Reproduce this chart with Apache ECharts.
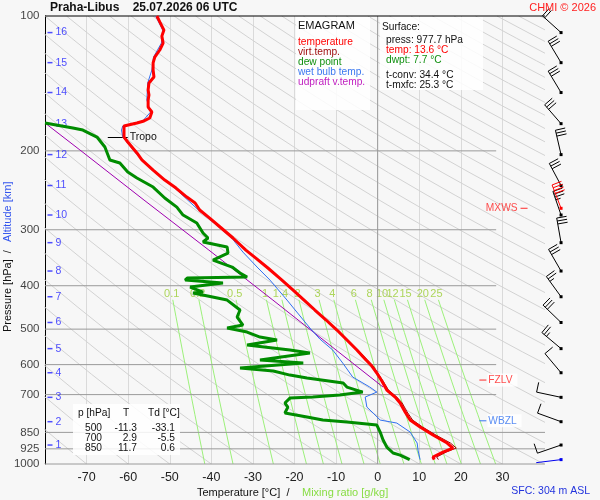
<!DOCTYPE html>
<html lang="cs">
<head>
<meta charset="UTF-8">
<title>Emagram Praha-Libus</title>
<script src="https://cdn.jsdelivr.net/npm/echarts@6/dist/echarts.min.js"></script>
<style>
  html, body { margin: 0; padding: 0; background: #f7f7f7; }
  #main { width: 600px; height: 500px; }
</style>
</head>
<body>
<div id="main"></div>
<script>
// ---- sounding data [T °C, p hPa] ----
const tempProfile = [
  [-53.1,100],[-52.4,103.1],[-51.4,107.5],[-51.9,110.9],[-51.6,114.9],[-52.4,119.1],[-53.6,123.5],
  [-54.0,127.3],[-54.0,132.0],[-53.8,136.8],[-55.0,141.1],[-55.2,146.3],[-55.0,150.1],[-55.2,154.0],
  [-55.2,159.7],[-54.3,163.8],[-54.8,168.9],[-56.2,171.5],[-57.9,173.3],[-61.0,176.0],[-61.3,177.8],
  [-61.0,186.3],[-60.1,191.1],[-57.9,202.2],[-56.7,209.6],[-54.0,220.7],[-51.2,232.4],[-48.5,242.1],
  [-45.9,253.6],[-43.9,261.5],[-42.8,271.1],[-40.4,282.5],[-37.9,295.8],[-34.8,313.0],[-31.7,333.0],
  [-29.3,347.0],[-26.4,365.2],[-23.3,386.5],[-20.6,406.9],[-17.7,430.6],[-15.1,453.2],[-12.4,477.1],
  [-9.8,502.3],[-7.4,528.8],[-5.0,556.7],[-2.8,586.1],[-1.4,604.4],[-0.2,626.6],[1.0,652.9],[2.2,683.8],
  [4.2,708.9],[5.4,731.1],[6.6,765.7],[7.8,797.8],[10.2,827.0],[13.3,861.8],[16.7,897.9],[18.1,921.2],
  [15.7,940.5],[13.3,964.7],[13.6,977.7]
];
const virtTemp = [
  [-9.5,502.3],[-4.7,556.7],[-1.1,604.4],[1.3,652.9],[2.6,683.8],[4.6,708.9],[5.9,731.1],[7.1,765.7],
  [8.4,797.8],[10.8,827.0],[14.0,861.8],[17.5,897.9],[18.9,921.2],[16.5,940.5],[14.2,964.7],[14.6,977.7]
];
const dewProfile = [
  [-80.0,173.3],[-73.3,177.8],[-70.9,179.7],[-67.5,186.3],[-65.6,196.1],[-64.4,209.6],[-62.0,212.9],
  [-60.1,223.0],[-57.9,229.9],[-54.0,240.9],[-51.2,254.8],[-48.3,267.0],[-46.8,278.2],[-43.5,289.8],
  [-42.0,305.1],[-40.8,313.0],[-42.0,319.5],[-36.2,327.9],[-36.0,338.2],[-39.6,350.6],[-35.0,363.4],
  [-33.1,374.7],[-31.4,382.5],[-45.8,384.5],[-46.3,388.5],[-37.2,394.5],[-45.1,402.7],[-42.0,413.3],
  [-44.4,415.3],[-36.2,430.6],[-33.1,453.2],[-33.8,469.8],[-32.4,489.5],[-36.2,497.1],[-31.4,507.5],
  [-28.3,520.7],[-24.2,528.8],[-31.4,542.5],[-21.1,556.7],[-16.3,565.3],[-28.3,586.1],[-17.9,595.2],
  [-33.1,610.7],[-25.1,620.2],[-21.1,633.2],[-17.0,642.9],[-8.3,659.6],[-7.4,673.4],[-3.6,690.9],
  [-9.1,701.7],[-15.6,708.9],[-21.1,712.6],[-22.3,731.1],[-21.6,746.2],[-22.3,769.5],[-17.0,785.6],
  [-13.2,797.8],[-7.4,806.0],[-0.2,818.5],[0.6,848.5],[1.3,884.1],[2.2,916.6],[3.7,945.2],[5.4,955.2],
  [7.7,977.7]
];
const wetBulb = [
  [-53.4,100],[-51.7,107.5],[-52.0,114.9],[-53.9,123.5],[-54.3,132.0],[-55.3,141.1],[-55.5,154.0],
  [-54.6,163.8],[-56.5,171.5],[-61.3,176.0],[-61.6,179.7],[-61.3,186.3],[-58.2,202.2],[-54.3,220.7],
  [-48.8,242.1],[-43.1,271.1],[-38.2,295.8],[-35.1,313.0],[-32.4,336.5],[-29.0,363.4],[-25.9,388.5],
  [-21.8,430.6],[-16.3,497.1],[-13.9,526.1],[-10.8,556.7],[-8.4,595.2],[-6.0,639.6],[-1.9,673.4],
  [-0.2,690.9],[-3.0,708.9],[-2.6,746.2],[-1.1,769.5],[0.6,797.8],[4.6,810.2],[7.8,848.5],[9.5,897.9],
  [9.7,930.8],[10.2,977.7]
];
const updraft = [
  [-80.0,173.3],[-71.6,199.1],[-56.2,257.5],[-40.6,333.0],[-25.2,430.6],[-10.0,556.7],[1.3,673.4]
];

// ---- axes / reference values ----
const pressureTicks = [100, 200, 300, 400, 500, 600, 700, 850, 925, 1000];
const altitudeKm = [1, 2, 3, 4, 5, 6, 7, 8, 9, 10, 11, 12, 13, 14, 15, 16];
const altitudePress = [907.1, 804.6, 709.9, 625.6, 552.7, 483.2, 423.3, 370.9, 320.6, 278.1, 239.0, 203.9, 173.9, 148.2, 127.1, 108.9];
const mixRatios = [0.1, 0.2, 0.5, 1, 1.4, 2, 3, 4, 6, 8, 10, 12, 15, 20, 25];

// ---- wind (pressure hPa, direction deg, speed kt) ----
const windPress = [108.9, 127.1, 148.2, 173.9, 203.9, 239.0, 278.1, 268.7, 320.6, 370.9, 423.3, 483.2, 552.7, 625.6, 709.9, 804.6, 907.1, 977.7];
const windDir   = [312, 329, 329, 319, 347, 332, 341, 339, 350, 330, 324, 314, 310, 320, 282, 290, 251, 263];
const windSpeed = [20, 30, 30, 30, 30, 30, 35, 40, 30, 30, 25, 30, 25, 10, 10, 10, 10, 2];
const windColor = ['#000','#000','#000','#000','#000','#000','#000','#f00','#000','#000','#000','#000','#000','#000','#000','#000','#000','#0000ee'];

// ---- special levels ----
const tropoP = 186.3, mxwsP = 268.7, fzlvP = 649.6, wbzlP = 800.7;
const sfcPress = 977.7, sfcTemp = 13.6, sfcDwpt = 7.7, tConv = 34.4, tMxfc = 25.3;
const tablePress = [500, 700, 850];
const tableT = [-11.3, 2.9, 11.7];
const tableTd = [-33.1, -5.5, 0.6];

const FONT = '"Liberation Sans", Arial, sans-serif';
const BARB_T = 44.1;

function dewFromMix(w, p) {
  const e = w * p / (622 + w);
  const l = Math.log(e / 6.112);
  return 243.5 * l / (17.67 - l);
}
function adiabatT(thetaC, p) {
  return (thetaC + 273.15) * Math.pow(p / 1000, 0.286) - 273.15;
}

const series = [];

// dry adiabats
const thetaLines = [];
for (let t = -80; t <= 330; t += 10) thetaLines.push(t);
const adiP = [];
for (let i = 0; i <= 20; i++) adiP.push(100 * Math.pow(10, i / 20));
thetaLines.forEach(th => {
  series.push({ type: 'line', silent: true, showSymbol: false, z: 1,
    lineStyle: { color: '#d2d2d2', width: 1 },
    data: adiP.map(p => [adiabatT(th, p), p]) });
});

// mixing ratio lines
const mixP = [];
for (let i = 0; i <= 10; i++) mixP.push(430 * Math.pow(1000 / 430, i / 10));
mixRatios.forEach(w => {
  series.push({ type: 'line', silent: true, showSymbol: false, z: 2,
    lineStyle: { color: '#9cf07a', width: 1 },
    data: mixP.map(p => [dewFromMix(w, p), p]) });
});
series.push({ type: 'scatter', silent: true, clip: false, z: 2, symbolSize: 1,
  itemStyle: { color: 'rgba(0,0,0,0)' },
  label: { show: true, position: 'inside', color: '#9acd32', fontSize: 11, fontFamily: FONT,
    formatter: p => String(p.data[2]) },
  data: mixRatios.map(w => [dewFromMix(w, 417), 417, w]) });

// pressure grid lines
pressureTicks.filter(p => p > 100).forEach(p => {
  series.push({ type: 'line', silent: true, showSymbol: false, clip: false, z: 3,
    lineStyle: { color: '#9a9a9a', width: 1 },
    data: [[-80, p], [p >= 850 ? 40.5 : 28.5, p]] });
});
// 0 °C isotherm and top border
series.push({ type: 'line', silent: true, showSymbol: false, z: 3,
  lineStyle: { color: '#999', width: 1 }, data: [[0, 100], [0, 1000]] });
series.push({ type: 'line', silent: true, showSymbol: false, clip: false, z: 3,
  lineStyle: { color: '#000', width: 1 }, data: [[-80, 100], [51.5, 100]] });

// pressure labels
series.push({ type: 'scatter', silent: true, clip: false, symbolSize: 1, z: 4,
  itemStyle: { color: 'rgba(0,0,0,0)' },
  label: { show: true, position: 'left', distance: 5, color: '#111', fontSize: 11.5, fontFamily: FONT,
    formatter: p => String(p.data[1]) },
  data: pressureTicks.map(p => [-80, p]) });

// altitude labels
series.push({ type: 'scatter', silent: true, clip: false, z: 4,
  symbol: 'rect', symbolSize: [5, 1.5], itemStyle: { color: '#2222ff' },
  label: { show: true, position: 'right', distance: 3, color: '#2222ff', fontSize: 10.5, fontFamily: FONT,
    formatter: p => String(p.data[2]) },
  data: altitudeKm.map((k, i) => [-78.8, altitudePress[i], k]) });

// sounding curves
function curve(data, color, width, z, extra) {
  return Object.assign({ type: 'line', silent: true, showSymbol: false, z: z,
    lineStyle: { color: color, width: width }, data: data }, extra || {});
}
series.push(curve(updraft, '#a000b0', 1, 5));
series.push(curve(wetBulb, '#3070f0', 1, 5));
series.push(curve(dewProfile, '#008c00', 3, 6));
series.push(curve(virtTemp, '#a00000', 1, 6));
series.push(curve(tempProfile, '#ff0000', 3, 7, {
  markLine: { silent: true, symbol: 'none', animation: false,
    lineStyle: { color: '#000', width: 1, type: 'solid' },
    label: { show: true, position: 'end', distance: 2, formatter: 'Tropo', color: '#111', fontSize: 10.5, fontFamily: FONT },
    data: [[{ coord: [-64.9, tropoP] }, { coord: [-60.1, tropoP] }]] }
}));

// special level markers
series.push({ type: 'scatter', silent: true, clip: false, z: 8,
  symbol: 'rect', symbolSize: [7, 1.2],
  label: { show: true, fontSize: 10.2, fontFamily: FONT },
  data: [
    { value: [35.2, mxwsP], itemStyle: { color: '#ff2020' },
      label: { position: 'left', distance: 3, formatter: 'MXWS', color: '#ff2020' } },
    { value: [25.3, fzlvP], itemStyle: { color: '#ff2020' },
      label: { position: 'right', distance: 1, formatter: 'FZLV', color: '#ff2020', backgroundColor: '#fff', padding: [2, 5, 1, 1] } },
    { value: [25.3, wbzlP], itemStyle: { color: '#3070f0' },
      label: { position: 'right', distance: 1, formatter: 'WBZL', color: '#3070f0', backgroundColor: '#fff', padding: [2, 5, 1, 1] } }
  ] });

// wind barbs
function renderBarb(params, api) {
  const pt = api.coord([api.value(0), api.value(1)]);
  const a = api.value(2) * Math.PI / 180;
  const n = Math.round(api.value(3) / 5);
  const color = windColor[params.dataIndex];
  const ux = Math.sin(a), uy = -Math.cos(a);
  const px = -uy, py = ux;
  const L = 25, F = 10;
  const tx = pt[0] + ux * L, ty = pt[1] + uy * L;
  const children = [
    { type: 'line', shape: { x1: pt[0], y1: pt[1], x2: tx, y2: ty }, style: { stroke: color, lineWidth: 1 } },
    { type: 'rect', shape: { x: pt[0] - 1.5, y: pt[1] - 1.5, width: 3, height: 3 }, style: { fill: color } }
  ];
  const full = Math.floor(n / 2), half = n % 2;
  for (let i = 0; i < full + half; i++) {
    const bx = tx - ux * i * 3, by = ty - uy * i * 3;
    const len = i < full ? F : F / 2;
    children.push({ type: 'line', shape: { x1: bx, y1: by, x2: bx + px * len, y2: by + py * len },
      style: { stroke: color, lineWidth: 1 } });
  }
  return { type: 'group', children: children };
}
series.push({ type: 'custom', silent: true, clip: false, z: 9,
  renderItem: renderBarb, encode: { x: 0, y: 1 },
  data: windPress.map((p, i) => [BARB_T, p, windDir[i], windSpeed[i]]) });

// ---- text boxes ----
function txt(x, y, text, fill, size, extra) {
  return { type: 'text', x: x, y: y, z: 101, silent: true,
    style: Object.assign({ text: text, fill: fill || '#111', fontSize: size || 10.2, fontFamily: FONT,
      textVerticalAlign: 'middle', verticalAlign: 'middle' }, extra || {}) };
}
const R = { textAlign: 'right', align: 'right' };

const graphic = [
  txt(50, 8, 'Praha-Libus    25.07.2026 06 UTC', '#111', 12, { fontWeight: 'bold' }),
  txt(596, 8, 'CHMI © 2026', '#ff2020', 11, R),
  txt(590, 491, 'SFC: 304 m ASL', '#2233dd', 10.5, R),
  txt(197, 493, 'Temperature [°C]  /', '#111', 11),
  txt(302, 493, 'Mixing ratio [g/kg]', '#88dd44', 11),
  Object.assign(txt(8, 332, 'Pressure [hPa]  /', '#111', 11), { rotation: Math.PI / 2 }),
  Object.assign(txt(8, 242, 'Altitude [km]', '#3355ee', 11), { rotation: Math.PI / 2 }),
  // legend box
  { type: 'rect', z: 100, silent: true, shape: { x: 296, y: 17, width: 74, height: 93 }, style: { fill: 'rgba(255,255,255,0.85)' } },
  txt(298, 26, 'EMAGRAM', '#111', 11),
  txt(298, 42, 'temperature', '#ff0000'),
  txt(298, 52, 'virt.temp.', '#a01010'),
  txt(298, 62, 'dew point', '#109010'),
  txt(298, 72, 'wet bulb temp.', '#3a78f0'),
  txt(298, 82, 'udpraft v.temp.', '#c020c0'),
  // surface box
  { type: 'rect', z: 100, silent: true, shape: { x: 380, y: 17, width: 103, height: 73 }, style: { fill: 'rgba(255,255,255,0.85)' } },
  txt(382, 27, 'Surface:'),
  txt(386, 40, 'press: ' + sfcPress.toFixed(1) + ' hPa'),
  txt(386, 50, 'temp: ' + sfcTemp.toFixed(1) + ' °C', '#ff0000'),
  txt(386, 60, 'dwpt: ' + sfcDwpt.toFixed(1) + ' °C', '#109010'),
  txt(386, 75, 't-conv: ' + tConv.toFixed(1) + ' °C'),
  txt(386, 85, 't-mxfc: ' + tMxfc.toFixed(1) + ' °C'),
  // table box
  { type: 'rect', z: 100, silent: true, shape: { x: 73, y: 404, width: 107, height: 51 }, style: { fill: 'rgba(255,255,255,0.85)' } },
  txt(78, 413, 'p [hPa]'),
  txt(123, 413, 'T'),
  txt(148, 413, 'Td [°C]')
];
tablePress.forEach((p, i) => {
  const y = 428 + i * 10;
  graphic.push(txt(102, y, String(p), '#111', 10.2, R));
  graphic.push(txt(137, y, tableT[i].toFixed(1), '#111', 10.2, R));
  graphic.push(txt(175, y, tableTd[i].toFixed(1), '#111', 10.2, R));
});

const chart = echarts.init(document.getElementById('main'));
chart.setOption({
  animation: false,
  backgroundColor: '#f7f7f7',
  textStyle: { fontFamily: FONT },
  grid: { left: 45, right: 56, top: 16, bottom: 36 },
  xAxis: {
    type: 'value', min: -80, max: 40, interval: 10,
    axisLine: { show: false }, axisTick: { show: false },
    axisLabel: { fontSize: 12.5, color: '#222', margin: 7,
      formatter: v => (v === -80 || v === 40) ? '' : String(v) },
    splitLine: { show: true, showMinLine: false, showMaxLine: false, lineStyle: { color: '#dadada', width: 1 } }
  },
  yAxis: {
    type: 'log', logBase: 10, min: 100, max: 1000, inverse: true,
    axisLine: { show: true, onZero: false, lineStyle: { color: '#000', width: 1 } },
    axisTick: { show: false }, axisLabel: { show: false }, splitLine: { show: false }
  },
  graphic: graphic,
  series: series
});
</script>
</body>
</html>
